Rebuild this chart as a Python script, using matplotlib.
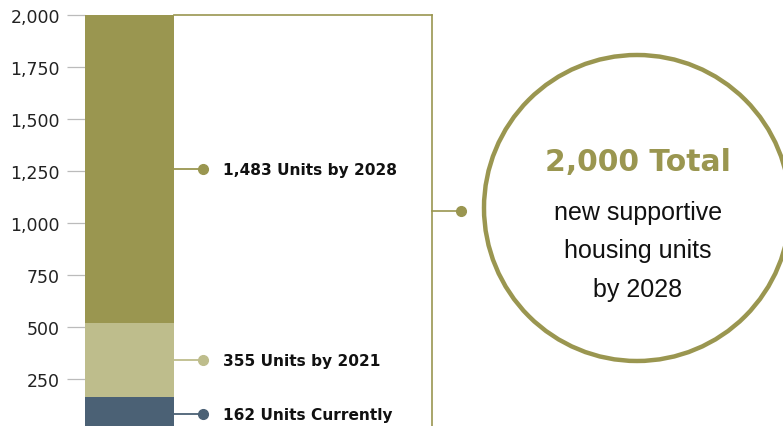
import matplotlib
matplotlib.use("Agg")
import matplotlib.pyplot as plt
from matplotlib.patches import Ellipse

# ------------------------------------------------------------
# data
# ------------------------------------------------------------
segments = [162, 355, 1483]
labels = ["162 Units Currently", "355 Units by 2021", "1,483 Units by 2028"]
colors = ["#4B6175", "#BEBD8C", "#9A9650"]
total = 2000
yticks = [250, 500, 750, 1000, 1250, 1500, 1750, 2000]

olive = "#9A9650"
W, H = 783, 427

fig = plt.figure(figsize=(W / 100, H / 100), dpi=100)
# x axis in pixel units, y axis in housing units
ax = fig.add_axes([85 / W, 0, 1 - 85 / W, 1])
ax.set_xlim(85, W)
ax.set_ylim(24, 2077)
px = (2077 - 24) / H  # units per pixel vertically

# stacked bar
bottom = 0
mids = []
for val, col in zip(segments, colors):
    ax.bar(129.5, val, width=89, bottom=bottom, color=col, zorder=2)
    mids.append(bottom + val / 2)
    bottom += val

# leader lines, dots and labels
for mid, lab, col in zip(mids, labels, colors):
    ax.plot([174, 203], [mid, mid], color=col, lw=1.3, zorder=3)
    ax.plot(203, mid, "o", color=col, ms=7, zorder=4)
    ax.text(223, mid, lab, fontsize=11.1, fontweight="bold",
            family="DejaVu Sans", color="#111111", va="center", ha="left")

# bracket to the total bubble
bx = 432
ax.plot([174, bx], [total, total], color=olive, lw=1.2, zorder=3)
ax.plot([bx, bx], [total, 0], color=olive, lw=1.2, zorder=3)
cy = 1060
ax.plot([bx, 461], [cy, cy], color=olive, lw=1.2, zorder=3)
ax.plot(461, cy, "o", color=olive, ms=7, zorder=4)

circ = Ellipse((637, (432 - 209) * px), width=306, height=306 * px,
               fill=False, edgecolor=olive, lw=3.2, zorder=3, clip_on=False)
ax.add_patch(circ)
ax.text(638, (432 - 163) * px, f"{total:,} Total", fontsize=21.5, fontweight="bold",
        family="DejaVu Sans", color=olive, ha="center", va="center")
for i, line in enumerate(["new supportive", "housing units", "by 2028"]):
    ax.text(638, (432 - 213 - i * 38.5) * px, line, fontsize=18,
            family="Liberation Sans", color="#111111", ha="center", va="center")

# axis styling
ax.set_yticks(yticks)
ax.set_yticklabels([f"{t:,}" for t in yticks], fontsize=12.5,
                   family="DejaVu Sans", color="#222222")
ax.tick_params(axis="y", length=13, width=0.9, color="#BBBBBB", pad=5)
ax.set_xticks([])
for s in ax.spines.values():
    s.set_visible(False)

fig.savefig("out.png", dpi=100, facecolor="white")
